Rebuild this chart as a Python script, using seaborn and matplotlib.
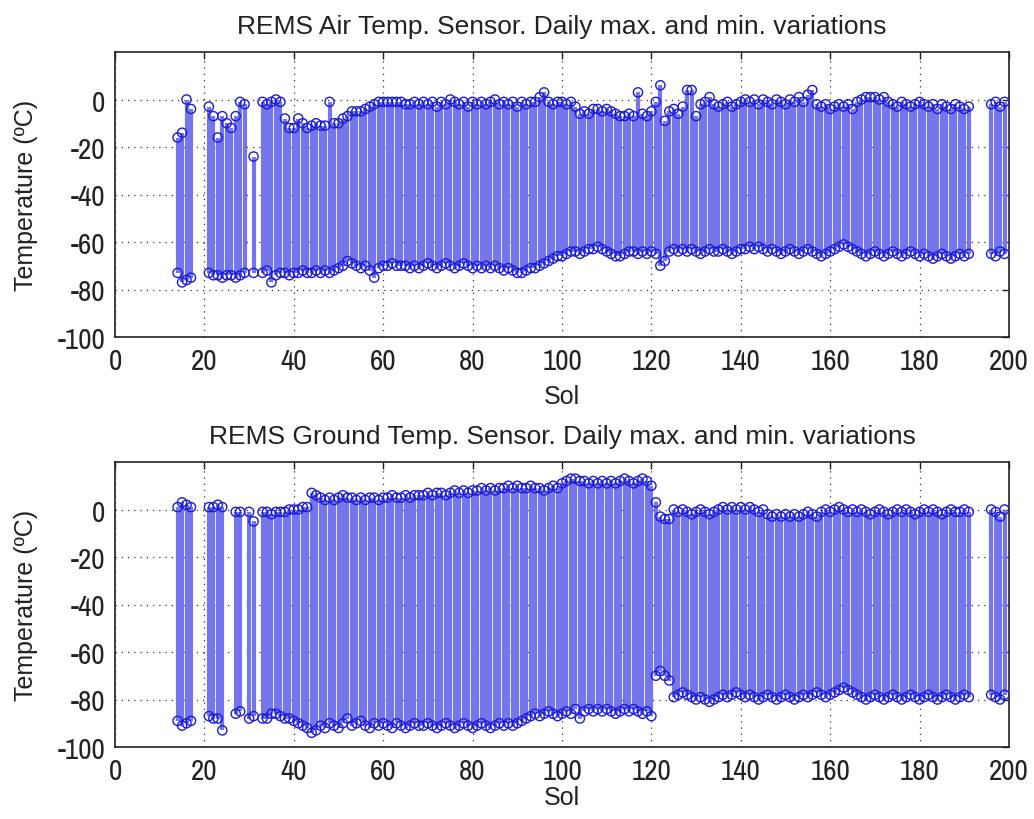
import numpy as np
import pandas as pd
import matplotlib
matplotlib.use("Agg")
import matplotlib.pyplot as plt
import seaborn as sns

# ---------------- data ----------------
air_sols = [14, 15, 16, 17] + list(range(21, 30)) + [31] + list(range(33, 192)) + [196, 197, 198, 199]
air_max = [
    -16, -14, 0, -4,
    -3, -7, -16, -7, -10, -12, -7, -1, -2,
    -24,
    -1, -2, -1, 0, -1,
    -8, -12, -12, -8, -10, -12, -11, -10, -11, -11, -1, -10, -10, -8, -7, -5, -5, -5, -4, -3, -2, -1, -1, -1, -1, -1, -1, -2, -2,
    -1, -2, -1, -2, -1, -3, -1, -2, 0, -1, -2, -1, -3, -1, -2, -1, -2, -1, 0, -2, -1, -2, -1, -3, -1, -2, -1,
    -1, 1, 3, -1, -2, -1, -1, -2, -1, -3, -6, -5, -6, -4, -4, -5, -4, -5, -6, -7, -7, -6, -7, 3, -6, -7, -5, -1, 6, -9, -5, -4, -6, -3, 4, 4, -7,
    -2, -1, 1, -2, -3, -2, -1, -3, -2, -1, 0, -1, 0, -2, 0, -1, -2, 0, -1, -2, 0, -1, 1, -1, 2, 4, -2, -3, -2, -4, -3, -2, -3, -2, -4, -1, 0,
    1, 1, 1, 0, 1, -1, -2, -3, -1, -2, -3, -2, -1, -2, -3, -2, -4, -2, -3, -4, -2, -3, -4, -3,
    -2, -1, -3, -1,
]
air_min = [
    -73, -77, -76, -75,
    -73, -74, -74, -75, -74, -74, -75, -74, -73,
    -73,
    -73, -72, -77, -74, -73,
    -73, -74, -73, -73, -72, -73, -73, -72, -73, -72, -73, -72, -71, -70, -68, -69, -70, -71, -70, -72, -75, -71, -70, -70, -69, -70, -70, -70, -71,
    -70, -71, -70, -69, -70, -71, -70, -69, -70, -71, -70, -69, -70, -71, -70, -71, -70, -71, -70, -71, -72, -71, -72, -73, -73, -72, -71,
    -71, -70, -69, -68, -67, -66, -66, -65, -64, -64, -65, -64, -63, -63, -62, -63, -64, -65, -66, -66, -65, -64, -64, -65, -64, -65, -64, -65, -70, -68, -64, -63, -64, -63, -64, -63, -64,
    -65, -64, -63, -64, -64, -63, -64, -65, -64, -63, -63, -62, -63, -62, -63, -64, -63, -64, -65, -64, -63, -64, -65, -64, -63, -64, -65, -66, -65, -64, -63, -62, -61, -62, -63, -64, -65,
    -66, -65, -64, -65, -66, -65, -64, -65, -66, -65, -64, -65, -66, -65, -66, -67, -66, -65, -66, -67, -66, -65, -66, -65,
    -65, -66, -64, -65,
]

ground_sols = [14, 15, 16, 17, 21, 22, 23, 24, 27, 28, 30, 31] + list(range(33, 192)) + [196, 197, 198, 199]
ground_max = [
    1, 3, 2, 1,
    1, 1, 2, 1,
    -1, -1,
    -1, -5,
    -1, -1, -2, -1, -1, -1, 0, 0, 0, 1, 1,
    7, 6,
    5, 4, 5, 4, 5, 6, 5, 5, 4, 5, 4, 5, 5, 4, 5, 5, 6, 5, 5, 6, 5, 6, 6,
    6, 7, 6, 7, 7, 6, 7, 8, 7, 8, 7, 8, 8, 9, 8, 9, 8, 9, 9, 10, 9, 10, 9, 9, 10, 9, 9, 8, 9, 10, 9,
    11, 12, 13, 13, 12, 12, 11, 12, 11, 12, 11, 12, 11, 12, 13, 12, 11, 12, 13, 12, 10,
    3, -3, -4, -4,
    0, -1, 0, -1, -2, -1, 0, -1, -2, -1, 0, 1, 0, 1, 0, 1, 0, 1, 0, -1, 0, -2, -3, -2, -3, -2, -3, -2, -3, -2, -1, -2, -3,
    -1, 0, -1, 0, 1, 0, -1, 0, -1, 0, -1, -2, -1, 0, -1, -2, -1, 0, -1, 0, -1, -2, -1, 0, -1, 0, -1, -2, -1, 0, -1, -1, 0, -1,
    0, -1, -3, 0,
]
ground_min = [
    -89, -91, -90, -89,
    -87, -88, -88, -93,
    -86, -85,
    -88, -87,
    -88, -88, -86, -86, -87, -88, -88, -89, -90, -91, -92,
    -94, -93,
    -91, -92, -90, -91, -92, -90, -88, -91, -90, -89, -91, -92, -90, -91, -90, -91, -92, -90, -91, -92, -91, -90, -91,
    -91, -90, -91, -92, -91, -90, -91, -92, -91, -90, -91, -92, -91, -90, -91, -92, -91, -90, -91, -90, -91, -90, -89, -88, -87, -86, -87, -86, -85, -86, -87,
    -86, -85, -86, -84, -88, -85, -84, -85, -84, -85, -84, -85, -86, -85, -84, -85, -84, -85, -86, -85, -87,
    -70, -68, -70, -72,
    -79, -78, -77, -78, -79, -80, -79, -80, -81, -80, -79, -78, -79, -78, -77, -78, -79, -78, -79, -80, -79, -78, -79, -80, -79, -78, -79, -80, -79, -78, -79, -78, -77,
    -78, -79, -78, -77, -76, -75, -76, -77, -78, -79, -80, -79, -78, -79, -80, -79, -78, -79, -80, -79, -78, -79, -80, -79, -78, -79, -80, -79, -78, -79, -80, -79, -78, -79,
    -78, -79, -80, -78,
]

titles = ["REMS Air Temp. Sensor. Daily max. and min. variations",
          "REMS Ground Temp. Sensor. Daily max. and min. variations"]
x_ticks = [0, 20, 40, 60, 80, 100, 120, 140, 160, 180, 200]
y_ticks = [0, -20, -40, -60, -80, -100]

# ---------------- style ----------------
sns.set_style("white")
plt.rcParams["font.family"] = ["Archivo Narrow", "Liberation Sans", "DejaVu Sans"]
plt.rcParams["axes.unicode_minus"] = False
LABEL_FONT = ["Liberation Sans", "DejaVu Sans"]

STEM = "#7676ec"
EDGE = "#1c1cd6"
TXT = "#222222"

fig = plt.figure(figsize=(10.34, 8.2), dpi=100)
W, H = 1034, 820
def px_axes(l, t, r, b):
    return fig.add_axes([l / W, 1 - b / H, (r - l) / W, (b - t) / H])

ax_top = px_axes(115, 53, 1009, 338)
ax_bot = px_axes(115, 463, 1009, 748)

panels = [
    (ax_top, air_sols, air_max, air_min, titles[0], -0.165),
    (ax_bot, ground_sols, ground_max, ground_min, titles[1], -0.135),
]

for ax, sols, tmax, tmin, title, sol_y in panels:
    assert len(sols) == len(tmax) == len(tmin), (len(sols), len(tmax), len(tmin))
    df = pd.DataFrame({"sol": sols, "tmax": tmax, "tmin": tmin})
    ax.vlines(df["sol"], df["tmin"], df["tmax"], colors=STEM, linewidth=3.0, zorder=2)
    pts = pd.concat([
        df[["sol", "tmax"]].rename(columns={"tmax": "temp"}),
        df[["sol", "tmin"]].rename(columns={"tmin": "temp"}),
    ])
    sns.scatterplot(data=pts, x="sol", y="temp", ax=ax, marker="o", s=44,
                    facecolor="none", edgecolor=EDGE, linewidth=1.0,
                    legend=False, zorder=3)
    ax.set_xlim(0, 200)
    ax.set_ylim(-100, 20)
    ax.set_xticks(x_ticks)
    ax.set_yticks(y_ticks)
    ax.grid(True, linestyle=(0, (1, 4)), color="#333333", linewidth=0.9)
    ax.set_axisbelow(True)
    ax.tick_params(direction="in", top=True, right=True, length=5, width=1,
                   labelsize=21, colors=TXT, pad=7)
    for sp in ax.spines.values():
        sp.set_color("#222222")
        sp.set_linewidth(1.2)
    ax.set_title(title, fontsize=19, color=TXT, pad=14, family=LABEL_FONT)
    ax.set_xlabel("Sol", fontsize=18, color=TXT, family=LABEL_FONT)
    ax.set_ylabel("Temperature (ºC)", fontsize=18, color=TXT, family=LABEL_FONT)
    ax.xaxis.set_label_coords(0.5, sol_y)
    ax.yaxis.set_label_coords(-0.086, 0.5)

fig.savefig("out.png", dpi=100)
